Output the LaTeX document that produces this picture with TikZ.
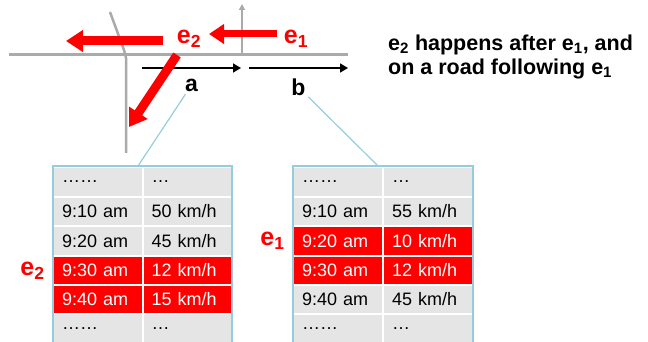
\documentclass[tikz,border=0pt]{standalone}
\usepackage{fontspec}
\setmainfont{Liberation Sans}
\usetikzlibrary{arrows.meta,positioning}

\definecolor{roadgray}{RGB}{170,170,170}
\definecolor{edgeblue}{RGB}{150,205,222}
\definecolor{cellgray}{RGB}{229,229,229}

\tikzset{
  road/.style={roadgray, line width=2.5pt},
  dirarrow/.style={line width=1.5pt, -{Triangle[length=8pt,width=9pt]}},
  evarrow/.style={red, line width=9pt, -{Triangle[length=17pt,width=21pt]}},
  evlabel/.style={red, inner sep=1pt, font=\bfseries\fontsize{25}{25}\selectfont},
  seglabel/.style={inner sep=2pt, font=\bfseries\fontsize{23}{23}\selectfont},
  cell/.style={fill=cellgray, minimum width=88pt, minimum height=27.4pt,
    text width=72pt, inner xsep=8pt, inner ysep=0pt, align=left,
    font=\fontsize{18}{18}\selectfont},
  hotcell/.style={cell, fill=red, text=white},
  frame/.style={draw=edgeblue, line width=1.5pt},
  callout/.style={edgeblue, line width=1.2pt},
}

\begin{document}
\begin{tikzpicture}[x=1pt, y=-1pt]
\useasboundingbox (0,0) rectangle (648,342);

% roads
\draw[road] (9,54.5) -- (348,54.5);
\draw[road] (110,12) -- (124,50) -- (126,58) -- (126,153);
\draw[road, line width=1.5pt, -{Triangle[length=6pt,width=6pt]}] (242,54) -- (242,4);

% road segments
\draw[dirarrow] (142,68) -- (241,68) node[seglabel, midway, below=8pt] (a) {a};
\draw[dirarrow] (249,68) -- (348,68) node[seglabel, midway, below=8pt] (b) {b};

% events
\node[evlabel] (eone) at (296,39) {e\textsubscript{1}};
\node[evlabel] (etwo) at (189,39) {e\textsubscript{2}};
\coordinate (eonetail) at (277,34);
\coordinate (eonetip) at (209,34);
\coordinate (etwotail) at (163,41);
\coordinate (etwotip) at (66,41);
\coordinate (etwostart) at (177,55);
\coordinate (etwoturn) at (129,127);
\draw[evarrow, line width=7pt, -{Triangle[length=15pt,width=19pt]}] (eonetail) -- (eonetip);
\draw[evarrow] (etwotail) -- (etwotip);
\draw[evarrow] (etwostart) -- (etwoturn);

\node[font=\bfseries\fontsize{21.5}{24}\selectfont, align=left, anchor=west, inner sep=0pt] (note) at (388,57)
  {e\textsubscript{2} happens after e\textsubscript{1}, and\\on a road following e\textsubscript{1}};

% table of segment a
\node[cell] (a11) at (98,182)   {……};
\node[cell] (a12) at (187.5,182) {…};
\node[cell] (a21) at (98,211.5) {9:10 am};
\node[cell] (a22) at (187.5,211.5) {50 km/h};
\node[cell] (a31) at (98,241) {9:20 am};
\node[cell] (a32) at (187.5,241) {45 km/h};
\node[hotcell] (a41) at (98,270.5) {9:30 am};
\node[hotcell] (a42) at (187.5,270.5) {12 km/h};
\node[hotcell] (a51) at (98,299.5) {9:40 am};
\node[hotcell] (a52) at (187.5,299.5) {15 km/h};
\node[cell] (a61) at (98,329) {……};
\node[cell] (a62) at (187.5,329) {…};
\draw[frame] (53,166) rectangle (232,352);
\coordinate (atop) at (138,166);

% table of segment b
\node[cell] (b11) at (338,182)   {……};
\node[cell] (b12) at (428,182) {…};
\node[cell] (b21) at (338,211.5) {9:10 am};
\node[cell] (b22) at (428,211.5) {55 km/h};
\node[hotcell] (b31) at (338,241) {9:20 am};
\node[hotcell] (b32) at (428,241) {10 km/h};
\node[hotcell] (b41) at (338,270.5) {9:30 am};
\node[hotcell] (b42) at (428,270.5) {12 km/h};
\node[cell] (b51) at (338,299.5) {9:40 am};
\node[cell] (b52) at (428,299.5) {45 km/h};
\node[cell] (b61) at (338,329) {……};
\node[cell] (b62) at (428,329) {…};
\draw[frame] (293,166) rectangle (473,352);
\coordinate (btop) at (378,166);

\draw[callout] (a) -- (atop);
\draw[callout] (b) -- (btop);

\node[evlabel, left=8pt of a41] (etwoat) {e\textsubscript{2}};
\node[evlabel, left=8pt of b31] (eoneat) {e\textsubscript{1}};
\end{tikzpicture}
\end{document}
